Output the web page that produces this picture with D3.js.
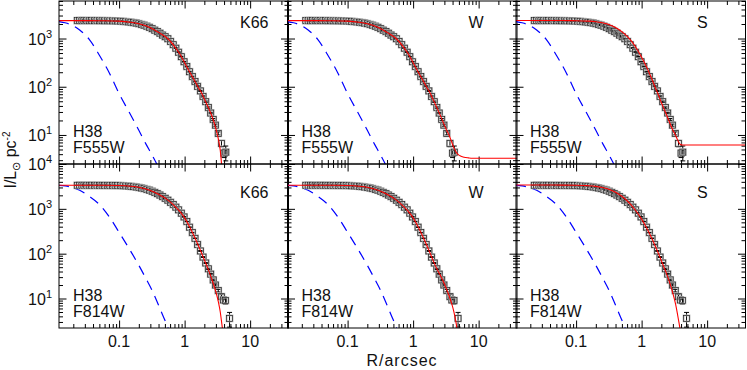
<!DOCTYPE html>
<html>
<head>
<meta charset="utf-8">
<script src="https://cdn.jsdelivr.net/npm/d3@7"></script>
<style>
  body { margin: 0; background: #fff; }
  text { font-family: "Liberation Sans", Arial, sans-serif; fill: #111; }
</style>
</head>
<body>
<svg id="chart" width="747" height="370"></svg>
<script>
// panel labels
const models = ['K66', 'W', 'S']
const filters = ['F555W', 'F814W']
const cluster = 'H38'
const xTickLabels = [0.1, 1, 10]

// observed profile, F555W
const radiiV = [0.023, 0.025, 0.027, 0.029, 0.032, 0.035, 0.038, 0.042, 0.046, 0.050,
  0.055, 0.060, 0.066, 0.072, 0.079, 0.087, 0.095, 0.105, 0.115, 0.126,
  0.138, 0.151, 0.166, 0.182, 0.20, 0.22, 0.24, 0.265, 0.29, 0.32,
  0.35, 0.385, 0.42, 0.46, 0.505, 0.555, 0.61, 0.67, 0.735, 0.81,
  0.89, 0.98, 1.08, 1.19, 1.31, 1.44, 1.58, 1.74, 1.91, 2.1,
  2.3, 2.5, 2.73, 2.95, 3.26, 3.65, 4.0, 4.25]
const surfV = [2350, 2360, 2345, 2355, 2350, 2345, 2355, 2345, 2350, 2340,
  2345, 2335, 2335, 2330, 2325, 2315, 2305, 2290, 2270, 2240,
  2210, 2175, 2135, 2090, 2030, 1960, 1890, 1800, 1710, 1600,
  1490, 1390, 1290, 1180, 1090, 990, 870, 745, 630, 520,
  420, 330, 262, 205, 162, 128, 102, 82, 63, 49,
  37, 28.5, 21, 16, 10.8, 6.7, 4.2, 4.4]
const errV = [30, 30, 30, 30, 30, 30, 30, 30, 30, 30,
  30, 30, 30, 30, 30, 30, 30, 30, 30, 30,
  28, 28, 28, 27, 26, 26, 25, 24, 23, 22,
  20, 19, 18, 16, 15, 14, 12, 11, 9, 8,
  7, 6, 5, 4, 3.5, 3, 2.5, 2, 1.8, 1.5,
  1.2, 1, 0.9, 0.8, 0.8, 1.0, 0.8, 1.5]

// observed profile, F814W
const radiiI = [0.023, 0.025, 0.027, 0.029, 0.032, 0.035, 0.038, 0.042, 0.046, 0.050,
  0.055, 0.060, 0.066, 0.072, 0.079, 0.087, 0.095, 0.105, 0.115, 0.126,
  0.138, 0.151, 0.166, 0.182, 0.20, 0.22, 0.24, 0.265, 0.29, 0.32,
  0.35, 0.385, 0.42, 0.46, 0.505, 0.555, 0.61, 0.67, 0.735, 0.81,
  0.89, 0.98, 1.08, 1.19, 1.31, 1.44, 1.58, 1.74, 1.91, 2.1,
  2.3, 2.5, 2.73, 2.95, 3.26, 3.65, 3.9, 4.2, 4.85]
const surfI = [3350, 3360, 3345, 3355, 3350, 3345, 3355, 3345, 3350, 3340,
  3345, 3335, 3335, 3330, 3325, 3315, 3305, 3290, 3270, 3245,
  3215, 3175, 3125, 3065, 2995, 2915, 2830, 2720, 2610, 2470,
  2330, 2180, 2030, 1870, 1720, 1560, 1400, 1240, 1090, 950,
  800, 660, 520, 390, 295, 220, 160, 115, 84, 62,
  46, 35, 26, 20, 15, 11, 9.3, 9.0, 3.6]
const errI = [35, 35, 35, 35, 35, 35, 35, 35, 35, 35,
  35, 35, 35, 35, 35, 35, 35, 35, 35, 35,
  34, 34, 33, 33, 32, 31, 30, 29, 28, 27,
  25, 23, 22, 20, 18, 17, 15, 13, 12, 10,
  9, 8, 6, 5, 4, 3.5, 3, 2.5, 2, 1.8,
  1.5, 1.3, 1.1, 1, 1, 1.2, 1.5, 1.5, 1.3]

// model fits (red) on a common radius grid
const fitR = [0.0121, 0.02, 0.035, 0.06, 0.1, 0.15, 0.2, 0.3, 0.4, 0.55,
  0.7, 0.85, 1.0, 1.2, 1.4, 1.6, 1.8, 2.0, 2.3, 2.6,
  3.0, 3.3, 3.5, 3.7, 3.9, 4.2, 4.5, 4.8, 5.2, 6,
  7, 8, 10, 14, 20, 38.5]
const fitK66V = [2350, 2350, 2348, 2338, 2300, 2180, 2030, 1680, 1340, 1000,
  690, 470, 315, 200, 138, 99, 76, 56, 37, 25,
  13.5, 7.8, 4.8, 2.0, 0.5, null, null, null, null, null,
  null, null, null, null, null, null]
const fitWV = [2350, 2350, 2348, 2338, 2300, 2180, 2030, 1680, 1340, 1000,
  690, 470, 315, 200, 138, 99, 76, 56, 37, 25.5,
  16, 12, 10.2, 8.5, 7.0, 5.4, 4.5, 4.0, 3.7, 3.45,
  3.35, 3.3, 3.3, 3.3, 3.3, 3.3]
const fitSV = [2360, 2360, 2360, 2358, 2345, 2300, 2230, 2000, 1700, 1250,
  880, 600, 410, 250, 155, 100, 68, 47, 30, 20,
  12.5, 9.8, 8.2, 7.0, 6.35, 6.2, 6.2, 6.2, 6.2, 6.2,
  6.2, 6.2, 6.2, 6.2, 6.2, 6.2]
const fitK66I = [3370, 3370, 3368, 3360, 3320, 3200, 3030, 2570, 2110, 1580,
  1170, 870, 630, 390, 245, 158, 106, 73, 44, 27,
  14, 8, 5, 2.7, 1.5, null, null, null, null, null,
  null, null, null, null, null, null]
const fitWI = [3370, 3370, 3368, 3360, 3320, 3200, 3030, 2570, 2110, 1580,
  1170, 870, 630, 390, 245, 158, 106, 73, 46, 33,
  21, 15, 12, 9.5, 7.5, 5, 3, 1.6, 0.6, null,
  null, null, null, null, null, null]
const fitSI = [3390, 3390, 3390, 3385, 3360, 3290, 3170, 2800, 2340, 1700,
  1200, 840, 590, 370, 235, 152, 102, 70, 42, 26,
  13, 7.5, 4.8, 3.0, 1.9, 0.8, null, null, null, null,
  null, null, null, null, null, null]

// PSF-like component (blue dashed)
const psfR = [0.0121, 0.015, 0.019, 0.025, 0.035, 0.05, 0.07, 0.1, 0.14, 0.2,
  0.26, 0.32, 0.376, 0.45, 0.56, 0.65]
const psfV = [2250, 2120, 1900, 1500, 960, 450, 200, 72, 31, 12.5,
  6.3, 3.8, 2.5, 1.4, 0.6, 0.3]
const psfI = [3350, 3250, 3000, 2600, 1900, 1250, 680, 300, 135, 55,
  27, 15, 8.8, 4.7, 2.2, 1.2]

const rows = [
  { filter: filters[0], r: radiiV, v: surfV, e: errV, psf: psfV, fits: [fitK66V, fitWV, fitSV] },
  { filter: filters[1], r: radiiI, v: surfI, e: errI, psf: psfI, fits: [fitK66I, fitWI, fitSI] }
]

const colLeft = [59, 287.5, 516]
const colWidth = 229.5
const rowTop = [1, 164]
const rowBottom = [164, 328]
const yDomains = [[2.5, 6000], [2.2, 10000]]
const xDomain = [0.0121, 38.5]
const modelLabelY = [28, 198]

const svg = d3.select('#chart')
svg.append('rect').attr('width', 747).attr('height', 370).attr('fill', '#fff')

function sideTicks(g, axisFn, scale, values, size, transform) {
  g.append('g')
    .attr('transform', transform)
    .call(axisFn(scale).tickValues(values).tickSize(size).tickSizeOuter(0).tickFormat(''))
    .call(s => s.select('.domain').remove())
    .call(s => s.selectAll('line').attr('stroke', '#000'))
}

const isDecade = v => Math.abs(Math.log10(v) - Math.round(Math.log10(v))) < 1e-6

rows.forEach((row, ri) => {
  const y = d3.scaleLog().domain(yDomains[ri]).range([rowBottom[ri], rowTop[ri]])
  const yT = y.ticks()
  const yMajor = yT.filter(isDecade)
  const yMinor = yT.filter(v => !isDecade(v))

  models.forEach((model, ci) => {
    const left = colLeft[ci], right = left + colWidth
    const x = d3.scaleLog().domain(xDomain).range([left, right])
    const xT = x.ticks()
    const xMajor = xT.filter(isDecade)
    const xMinor = xT.filter(v => !isDecade(v))

    const g = svg.append('g')
    const clipId = `clip${ri}${ci}`
    svg.append('clipPath').attr('id', clipId)
      .append('rect')
      .attr('x', left).attr('y', rowTop[ri])
      .attr('width', colWidth).attr('height', rowBottom[ri] - rowTop[ri])

    // ticks on all four sides, pointing in
    sideTicks(g, d3.axisBottom, x, xMinor, -4, `translate(0,${rowBottom[ri]})`)
    sideTicks(g, d3.axisBottom, x, xMajor, -7.5, `translate(0,${rowBottom[ri]})`)
    sideTicks(g, d3.axisTop, x, xMinor, -4, `translate(0,${rowTop[ri]})`)
    sideTicks(g, d3.axisTop, x, xMajor, -7.5, `translate(0,${rowTop[ri]})`)
    sideTicks(g, d3.axisLeft, y, yMinor, -4, `translate(${left},0)`)
    sideTicks(g, d3.axisLeft, y, yMajor, -7.5, `translate(${left},0)`)
    sideTicks(g, d3.axisRight, y, yMinor, -4, `translate(${right},0)`)
    sideTicks(g, d3.axisRight, y, yMajor, -7.5, `translate(${right},0)`)

    const plot = g.append('g').attr('clip-path', `url(#${clipId})`)

    // blue dashed component
    const psfLine = d3.line()
      .x(d => x(d[0])).y(d => y(d[1]))
      .curve(d3.curveMonotoneX)
    plot.append('path')
      .datum(d3.zip(psfR, row.psf))
      .attr('d', psfLine)
      .attr('fill', 'none')
      .attr('stroke', '#0000ff')
      .attr('stroke-width', 1.2)
      .attr('stroke-dasharray', '10,7')

    // data points with error bars
    const pts = plot.selectAll('g.pt')
      .data(d3.zip(row.r, row.v, row.e))
      .join('g').attr('class', 'pt')
    pts.append('line')
      .attr('x1', d => x(d[0])).attr('x2', d => x(d[0]))
      .attr('y1', d => y(d[1] - d[2])).attr('y2', d => y(d[1] + d[2]))
      .attr('stroke', '#000').attr('stroke-width', 1)
    pts.append('line')
      .attr('x1', d => x(d[0]) - 2.5).attr('x2', d => x(d[0]) + 2.5)
      .attr('y1', d => y(d[1] + d[2])).attr('y2', d => y(d[1] + d[2]))
      .attr('stroke', '#000').attr('stroke-width', 1)
    pts.append('line')
      .attr('x1', d => x(d[0]) - 2.5).attr('x2', d => x(d[0]) + 2.5)
      .attr('y1', d => y(d[1] - d[2])).attr('y2', d => y(d[1] - d[2]))
      .attr('stroke', '#000').attr('stroke-width', 1)
    pts.append('rect')
      .attr('x', d => x(d[0]) - 3).attr('y', d => y(d[1]) - 3)
      .attr('width', 6).attr('height', 6)
      .attr('fill', 'none').attr('stroke', '#bdbdbd').attr('stroke-width', 1.8)
    pts.append('rect')
      .attr('x', d => x(d[0]) - 3).attr('y', d => y(d[1]) - 3)
      .attr('width', 6).attr('height', 6)
      .attr('fill', 'none').attr('stroke', '#222').attr('stroke-width', 0.7)

    // red model fit
    const fitLine = d3.line()
      .defined(d => d[1] != null)
      .x(d => x(d[0])).y(d => y(d[1]))
      .curve(d3.curveMonotoneX)
    plot.append('path')
      .datum(d3.zip(fitR, row.fits[ci]))
      .attr('d', fitLine)
      .attr('fill', 'none')
      .attr('stroke', '#ff0000')
      .attr('stroke-width', 1.1)

    // frame
    g.append('rect')
      .attr('x', left).attr('y', rowTop[ri])
      .attr('width', colWidth).attr('height', rowBottom[ri] - rowTop[ri])
      .attr('fill', 'none').attr('stroke', '#000').attr('stroke-width', 1)

    // labels inside the panel
    g.append('text')
      .attr('x', left + 181).attr('y', modelLabelY[ri])
      .attr('font-size', 16).text(model)
    g.append('text')
      .attr('x', left + 14).attr('y', rowBottom[ri] - 27.5)
      .attr('font-size', 16).text(cluster)
    g.append('text')
      .attr('x', left + 14).attr('y', rowBottom[ri] - 11)
      .attr('font-size', 16).text(row.filter)

    // y tick labels on the first column
    if (ci === 0) {
      yMajor.forEach(v => {
        const t = g.append('text')
          .attr('x', left - 7).attr('y', y(v) + 6)
          .attr('text-anchor', 'end').attr('font-size', 16)
        t.append('tspan').text('10')
        t.append('tspan').attr('font-size', 11).attr('dy', -7)
          .text(Math.round(Math.log10(v)))
      })
    }

    // x tick labels on the bottom row
    if (ri === 1) {
      xTickLabels.forEach(v => {
        g.append('text')
          .attr('x', x(v)).attr('y', 347)
          .attr('text-anchor', 'middle').attr('font-size', 16)
          .text(String(v))
      })
    }
  })
})

// axis titles
svg.append('text')
  .attr('x', 402).attr('y', 366)
  .attr('text-anchor', 'middle').attr('font-size', 16)
  .attr('letter-spacing', 1)
  .text('R/arcsec')

const yTitle = svg.append('text')
  .attr('transform', 'translate(16,160) rotate(-90)')
  .attr('text-anchor', 'middle').attr('font-size', 16)
yTitle.append('tspan').text('I/L')
yTitle.append('tspan').attr('font-size', 11).attr('dy', 4).text('\u2299')
yTitle.append('tspan').attr('dy', -4).text(' pc')
yTitle.append('tspan').attr('font-size', 10).attr('dy', -6).text('-2')
</script>
</body>
</html>
